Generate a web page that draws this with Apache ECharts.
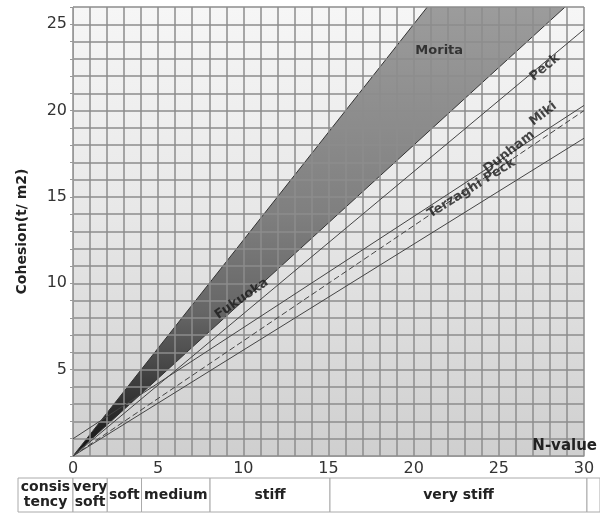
<!DOCTYPE html>
<html>
<head>
<meta charset="utf-8">
<script src="https://cdn.jsdelivr.net/npm/echarts@6.0.0/dist/echarts.min.js"></script>
<style>
  html, body { margin: 0; padding: 0; background: #fff; }
  #chart { width: 600px; height: 514px; }
</style>
</head>
<body>
<div id="chart"></div>
<script>
// cohesion c (t/m2) against N-value
const peck = [[0, 0], [30, 24.7]];
const miki = [[0, 1.0], [30, 20.3]];
const dunham = [[0, 0], [30, 20.0]];
const terzaghiPeck = [[0, 0], [30, 18.4]];
// shaded zone: Morita (upper edge) .. Fukuoka (lower edge)
const bandUpper = [[0, 0], [30, 37.5]];
const bandLower = [[0, 0], [30, 27.0]];

const lineLabels = ['Morita', 'Peck', 'Miki', 'Dunham', 'Terzaghi Peck', 'Fukuoka'];
// where the labels sit, in N / c units
const lineLabelAt = [[21.5, 23.5], [27.7, 22.5], [27.6, 19.8], [25.6, 17.6], [23.4, 15.5], [9.9, 9.1]];
const lineLabelAngle = [0, 40, 38, 38, 32, 35];

// consistency row below the x axis (null = edge of the row)
const consistency = ['consis\ntency', 'very\nsoft', 'soft', 'medium', 'stiff', 'very stiff', ''];
const consistencyFrom = [null, 0, 2, 4, 8, 15, 30];
const consistencyTo = [0, 2, 4, 8, 15, 30, null];

const FONT = 'DejaVu Sans';

function lineSeries(data, dashed) {
  return {
    type: 'line',
    data: data,
    symbol: 'none',
    z: 3,
    silent: true,
    lineStyle: { color: '#444', width: 1, type: dashed ? [6, 3] : 'solid' }
  };
}

let option = {
  animation: false,
  grid: [{
    left: 73, right: 13, top: 7, bottom: 58,
    show: true,
    borderWidth: 0,
    backgroundColor: new echarts.graphic.LinearGradient(0, 0, 0, 1, [
      { offset: 0, color: '#f6f6f6' },
      { offset: 0.45, color: '#e8e8e8' },
      { offset: 1, color: '#cfcfcf' }
    ])
  }, {
    left: 18, right: 0, top: 478, height: 34
  }],
  xAxis: [{
    type: 'value', gridIndex: 0, min: 0, max: 30, interval: 1, z: 2,
    name: 'N-value',
    nameLocation: 'end',
    nameGap: 13,
    nameTextStyle: { align: 'right', verticalAlign: 'bottom', fontFamily: FONT, fontWeight: 'bold', fontSize: 15, color: '#222', padding: [0, 0, 2, 0] },
    axisLine: { lineStyle: { color: '#999', width: 1 } },
    axisTick: { show: false },
    axisLabel: {
      fontFamily: FONT, fontSize: 16, color: '#333', margin: 5,
      formatter: function (v) { return v % 5 === 0 ? String(v) : ''; }
    },
    splitLine: { show: true, lineStyle: { color: 'rgba(140,140,140,0.75)', width: 2 } }
  }, {
    type: 'value', gridIndex: 1, min: -3.21, max: 30.76, show: false
  }],
  yAxis: [{
    type: 'value', gridIndex: 0, min: 0, max: 26, interval: 1, z: 2,
    name: 'Cohesion(t/ m2)',
    nameLocation: 'middle',
    nameGap: 44,
    nameRotate: 90,
    nameTextStyle: { fontFamily: FONT, fontWeight: 'bold', fontSize: 14, color: '#222' },
    axisLine: { show: true, lineStyle: { color: '#999', width: 1 } },
    axisTick: { show: true, length: 3, lineStyle: { color: '#999' } },
    axisLabel: {
      fontFamily: FONT, fontSize: 16, color: '#333', margin: 6,
      formatter: function (v) { return v % 5 === 0 && v > 0 ? String(v) : ''; }
    },
    splitLine: { show: true, lineStyle: { color: 'rgba(140,140,140,0.75)', width: 2 } }
  }, {
    type: 'value', gridIndex: 1, min: 0, max: 1, show: false
  }],
  series: [{
    // shaded Morita–Fukuoka zone
    type: 'custom',
    coordinateSystem: 'cartesian2d',
    xAxisIndex: 0, yAxisIndex: 0,
    clip: true,
    z: 1,
    silent: true,
    data: [[0, 0]],
    renderItem: function (params, api) {
      const pts = [bandLower[0], bandUpper[1], bandLower[1]].map(function (p) { return api.coord(p); });
      const top = api.coord([0, 26])[1];
      const bottom = api.coord([0, 0])[1];
      return {
        type: 'polygon',
        shape: { points: pts },
        style: {
          fill: new echarts.graphic.LinearGradient(0, top, 0, bottom, [
            { offset: 0, color: '#9c9c9c' },
            { offset: 0.45, color: '#808080' },
            { offset: 0.68, color: '#666' },
            { offset: 0.85, color: '#3a3a3a' },
            { offset: 1, color: '#111' }
          ], true),
          stroke: '#333',
          lineWidth: 1
        }
      };
    }
  },
  lineSeries(peck, false),
  lineSeries(miki, false),
  lineSeries(dunham, true),
  lineSeries(terzaghiPeck, false),
  {
    type: 'scatter',
    z: 5,
    silent: true,
    symbolSize: 0,
    data: lineLabels.map(function (name, i) {
      return { name: name, value: lineLabelAt[i], label: { rotate: lineLabelAngle[i] } };
    }),
    label: {
      show: true, position: 'inside', formatter: '{b}',
      fontFamily: FONT, fontWeight: 'bold', fontSize: 13, color: '#1a1a1a'
    }
  }, {
    // consistency table
    type: 'custom',
    coordinateSystem: 'cartesian2d',
    xAxisIndex: 1, yAxisIndex: 1,
    silent: true,
    data: consistency.map(function (n, i) { return [i, 0.5]; }),
    renderItem: function (params, api) {
      const i = params.dataIndex;
      const cs = params.coordSys;
      const x0 = consistencyFrom[i] === null ? cs.x : api.coord([consistencyFrom[i], 0])[0];
      const x1 = consistencyTo[i] === null ? cs.x + cs.width : api.coord([consistencyTo[i], 0])[0];
      return {
        type: 'group',
        children: [{
          type: 'rect',
          shape: { x: x0, y: cs.y, width: x1 - x0, height: cs.height },
          style: { fill: '#fff', stroke: '#aaa', lineWidth: 1 }
        }, {
          type: 'text',
          style: {
            x: (x0 + x1) / 2, y: cs.y + cs.height / 2,
            text: consistency[i],
            align: 'center', verticalAlign: 'middle',
            font: 'bold 14px "DejaVu Sans"', lineHeight: 15,
            fill: '#222'
          }
        }]
      };
    }
  }]
};

let myChart = echarts.init(document.getElementById('chart'));
myChart.setOption(option);
</script>
</body>
</html>
